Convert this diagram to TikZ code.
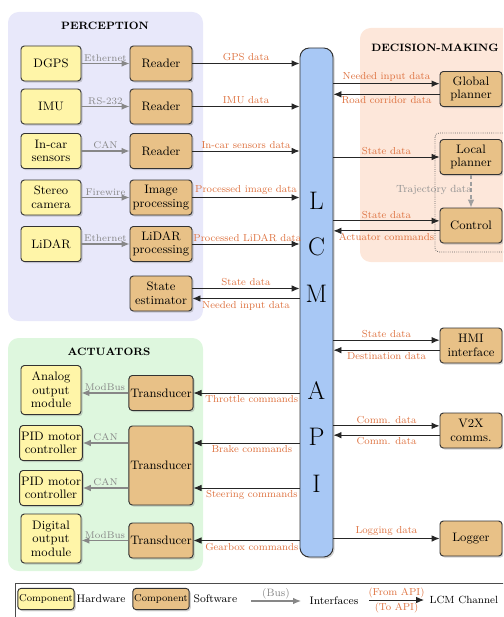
\documentclass[tikz,border=0pt]{standalone}
\usetikzlibrary{arrows.meta,shadows}
\definecolor{hwfill}{RGB}{255,245,168}
\definecolor{swfill}{RGB}{232,193,135}
\definecolor{barfill}{RGB}{168,200,245}
\definecolor{percbg}{RGB}{232,232,250}
\definecolor{decbg}{RGB}{253,231,218}
\definecolor{actbg}{RGB}{222,247,222}
\definecolor{lbl}{RGB}{222,115,65}
\definecolor{busc}{RGB}{135,135,135}
\begin{document}
\begin{tikzpicture}[x=0.75pt,y=-0.75pt,
  box/.style={draw=black!80, line width=0.7pt, rounded corners=2.5pt, align=center,
    font=\fontsize{9.2}{10.2}\selectfont, inner sep=1pt,
    drop shadow={shadow xshift=1.2pt, shadow yshift=-1.2pt, opacity=0.35}},
  hw/.style={box, fill=hwfill, minimum width=45pt, minimum height=26.25pt},
  sw/.style={box, fill=swfill, minimum width=46.5pt, minimum height=26.25pt},
  lab/.style={font=\fontsize{7.6}{8.5}\selectfont, text=lbl, inner sep=1.5pt},
  buslab/.style={font=\fontsize{7.3}{8}\selectfont, text=busc, inner sep=1pt},
  title/.style={font=\fontsize{8}{9}\selectfont\bfseries},
  letter/.style={font=\fontsize{19}{20}\selectfont},
  ch/.style={draw=black!85, line width=0.7pt, -{Latex[length=6pt,width=5pt]}},
  bus/.style={draw=busc, line width=0.9pt, -{Latex[length=6pt,width=5pt]}},
  legtext/.style={font=\fontsize{8.2}{9}\selectfont, anchor=west, inner sep=1pt}
]
\useasboundingbox (0,0) rectangle (503,617);
\clip (0,0) rectangle (503,617);

% background regions
\fill[percbg, rounded corners=8pt] (8,12) rectangle (203,321);
\fill[decbg, rounded corners=8pt] (360,28) rectangle (520,262);
\fill[actbg, rounded corners=8pt] (8,338) rectangle (203,571);
\node[title] (tperc) at (105,26) {PERCEPTION};
\node[title] (tdec) at (435,48) {DECISION-MAKING};
\node[title] (tact) at (109,352) {ACTUATORS};

% central bar
\node[draw=black!80, line width=0.7pt, fill=barfill, rounded corners=7pt,
  minimum width=24.75pt, minimum height=381.75pt,
  drop shadow={shadow xshift=1.2pt, shadow yshift=-1.2pt, opacity=0.35}] (bar) at (316.5,302.5) {};
\node[letter] (lL) at (316.5,201) {L};
\node[letter] (lC) at (316.5,247) {C};
\node[letter] (lM) at (316.5,294) {M};
\node[letter] (lA) at (316.5,391) {A};
\node[letter] (lP) at (316.5,437) {P};
\node[letter] (lI) at (316.5,484) {I};

% perception
\node[hw] (dgps) at (51,63.5) {DGPS};
\node[hw] (imu) at (51,106.5) {IMU};
\node[hw] (incar) at (51,151) {In-car\\sensors};
\node[hw] (stereo) at (51,197.5) {Stereo\\camera};
\node[hw] (lidar) at (51,244) {LiDAR};
\node[sw] (r1) at (161,63.5) {Reader};
\node[sw] (r2) at (161,106.5) {Reader};
\node[sw] (r3) at (161,151) {Reader};
\node[sw] (ip) at (161,197.5) {Image\\processing};
\node[sw] (lp) at (161,244) {LiDAR\\processing};
\node[sw] (se) at (161,293.5) {State\\estimator};

\draw[bus] (dgps) -- node[buslab, above]{Ethernet} (r1);
\draw[bus] (imu) -- node[buslab, above]{RS-232} (r2);
\draw[bus] (incar) -- node[buslab, above]{CAN} (r3);
\draw[bus] (stereo) -- node[buslab, above]{Firewire} (ip);
\draw[bus] (lidar) -- node[buslab, above]{Ethernet} (lp);

\draw[ch] (r1.east) -- node[lab, above]{GPS data} (r1.east -| bar.west);
\draw[ch] (r2.east) -- node[lab, above]{IMU data} (r2.east -| bar.west);
\draw[ch] (r3.east) -- node[lab, above]{In-car sensors data} (r3.east -| bar.west);
\draw[ch] (ip.east) -- node[lab, above]{Processed image data} (ip.east -| bar.west);
\draw[ch] (lp.east) -- node[lab, above, xshift=1pt]{Processed LiDAR data} (lp.east -| bar.west);
\coordinate (seA) at ([yshift=3.75pt]se.east);
\coordinate (seB) at ([yshift=-3.75pt]se.east);
\draw[ch] (seA) -- node[lab, above]{State data} (seA -| bar.west);
\draw[ch] (seB -| bar.west) -- node[lab, below]{Needed input data} (seB);

% decision-making
\draw[densely dotted, black!60, line width=0.6pt, rounded corners=3pt] (435,133) rectangle (520,252);
\node[sw] (gp) at (471,89) {Global\\planner};
\node[sw] (lpl) at (471,157) {Local\\planner};
\node[sw] (ctrl) at (471,225.5) {Control};
\coordinate (gpA) at ([yshift=4pt]gp.west);
\coordinate (gpB) at ([yshift=-4pt]gp.west);
\draw[ch] (gpA -| bar.east) -- node[lab, above]{Needed input data} (gpA);
\draw[ch] (gpB) -- node[lab, below]{Road corridor data} (gpB -| bar.east);
\draw[ch] (lpl.west -| bar.east) -- node[lab, above]{State data} (lpl.west);
\coordinate (ctA) at ([yshift=3.5pt]ctrl.west);
\coordinate (ctB) at ([yshift=-4pt]ctrl.west);
\draw[ch] (ctA -| bar.east) -- node[lab, above]{State data} (ctA);
\draw[ch] (ctB) -- node[lab, below]{Actuator commands} (ctB -| bar.east);
\draw[densely dashed, draw=busc!80, line width=0.8pt, -{Latex[length=6pt,width=5pt]}] (lpl) -- (ctrl)
  node[pos=0.45, buslab, text=busc!90, anchor=east, xshift=2pt, font=\fontsize{7.8}{9}\selectfont] {Trajectory data};

% right side others
\node[sw] (hmi) at (471,345.5) {HMI\\interface};
\node[sw] (v2x) at (471,430.5) {V2X\\comms.};
\node[sw] (log) at (471,538.5) {Logger};
\coordinate (hmA) at ([yshift=4pt]hmi.west);
\coordinate (hmB) at ([yshift=-3.5pt]hmi.west);
\draw[ch] (hmA -| bar.east) -- node[lab, above]{State data} (hmA);
\draw[ch] (hmB) -- node[lab, below]{Destination data} (hmB -| bar.east);
\coordinate (vxA) at ([yshift=3.5pt]v2x.west);
\coordinate (vxB) at ([yshift=-3.5pt]v2x.west);
\draw[ch] (vxA -| bar.east) -- node[lab, above]{Comm. data} (vxA);
\draw[ch] (vxB) -- node[lab, below]{Comm. data} (vxB -| bar.east);
\draw[ch] (log.west -| bar.east) -- node[lab, above]{Logging data} (log.west);

% actuators
\node[hw, minimum height=36.75pt] (aom) at (51,390) {Analog\\output\\module};
\node[hw] (pid1) at (51,443) {PID motor\\controller};
\node[hw] (pid2) at (51,488) {PID motor\\controller};
\node[hw, minimum height=36.75pt] (dom) at (51,538.5) {Digital\\output\\module};
\node[sw] (t1) at (161,393) {Transducer};
\node[sw, minimum height=59.25pt] (t2) at (161,465.5) {Transducer};
\node[sw] (t3) at (161,540.5) {Transducer};
\coordinate (t2A) at (t2.east |- pid1.east);
\coordinate (t2B) at (t2.east |- pid2.east);

\draw[bus] (t1.west) -- node[buslab, above]{ModBus} (t1.west -| aom.east);
\draw[bus] (t2.west |- pid1.east) -- node[buslab, above]{CAN} (pid1.east);
\draw[bus] (t2.west |- pid2.east) -- node[buslab, above]{CAN} (pid2.east);
\draw[bus] (t3.west) -- node[buslab, above]{ModBus} (t3.west -| dom.east);

\draw[ch] (t1.east -| bar.west) -- node[lab, below, pos=0.45]{Throttle commands} (t1.east);
\draw[ch] (t2A -| bar.west) -- node[lab, below, pos=0.45]{Brake commands} (t2A);
\draw[ch] (t2B -| bar.west) -- node[lab, below, pos=0.45]{Steering commands} (t2B);
\draw[ch] (t3.east -| bar.west) -- node[lab, below, pos=0.45]{Gearbox commands} (t3.east);

% legend
\draw[black!70, line width=0.6pt] (15,640) -- (15,583) -- (520,583);
\node[hw, minimum width=39pt, minimum height=16pt, font=\fontsize{7.5}{8}\selectfont] (lhw) at (46,599) {Component};
\node[legtext] (lhwt) at (75,599) {Hardware};
\node[sw, minimum width=39pt, minimum height=16pt, font=\fontsize{7.5}{8}\selectfont] (lsw) at (161,599) {Component};
\node[legtext] (lswt) at (192,599) {Software};
\coordinate (lb1) at (251,601);
\coordinate (lb2) at (301,601);
\draw[bus] (lb1) -- node[buslab, above, font=\fontsize{8}{9}\selectfont]{(Bus)} (lb2);
\node[legtext] (lbt) at (308,601) {Interfaces};
\coordinate (lc1) at (369,600);
\coordinate (lc2) at (424,600);
\draw[ch] (lc1) -- node[lab, above]{(From API)} node[lab, below]{(To API)} (lc2);
\node[legtext, font=\fontsize{7.8}{9}\selectfont] (lct) at (428,600) {LCM Channel};
\end{tikzpicture}
\end{document}
